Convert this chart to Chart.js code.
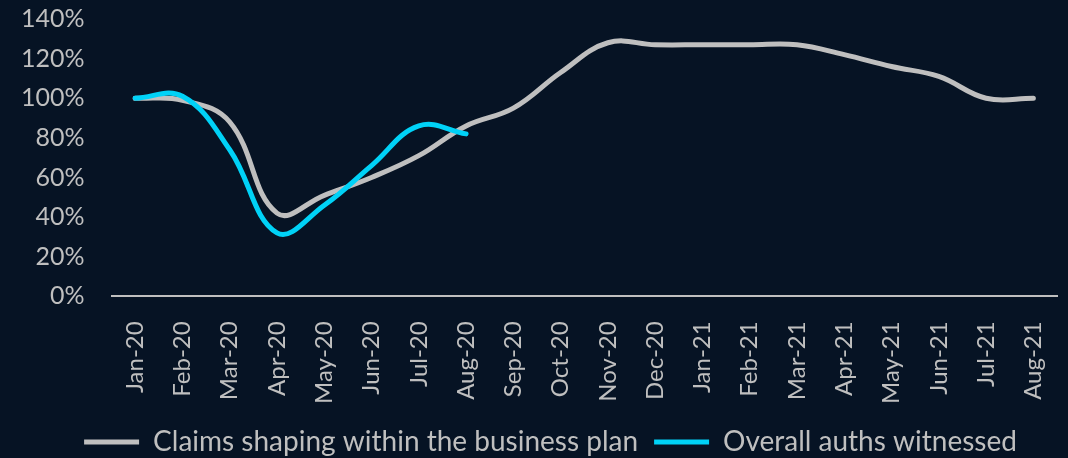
<!DOCTYPE html>
<html>
<head>
<meta charset="utf-8">
<script src="https://cdn.jsdelivr.net/npm/chart.js@4/dist/chart.umd.min.js"></script>
<style>
  html, body { margin: 0; padding: 0; background: #061324; }
  #wrap { width: 1068px; height: 458px; }
</style>
</head>
<body>
<div id="wrap"><canvas id="claimsChart"></canvas></div>
<script>
const months = ['Jan-20', 'Feb-20', 'Mar-20', 'Apr-20', 'May-20', 'Jun-20', 'Jul-20', 'Aug-20',
  'Sep-20', 'Oct-20', 'Nov-20', 'Dec-20', 'Jan-21', 'Feb-21', 'Mar-21', 'Apr-21',
  'May-21', 'Jun-21', 'Jul-21', 'Aug-21'];

// % of baseline
const claimsPlan = [100, 99, 88, 42, 51, 60, 71, 86, 95, 113, 128, 127, 127, 127, 127, 122, 116, 111, 100, 100];
const authsWitnessed = [100, 101, 74, 32, 46, 66, 86, 82];

const yTicks = [0, 20, 40, 60, 80, 100, 120, 140];

const textColor = '#bfbfbf';
const font = 'Lato, "Open Sans", sans-serif';

// nudge the legend row a little to the right
const legendShift = {
  id: 'legendShift',
  afterLayout(chart) { chart.legend.left += 42; }
};

new Chart(document.getElementById('claimsChart'), {
  type: 'line',
  data: {
    labels: months,
    datasets: [
      {
        label: 'Claims shaping within the business plan',
        data: claimsPlan,
        borderColor: '#bfbfbf',
        backgroundColor: '#bfbfbf',
        borderWidth: 5,
        borderCapStyle: 'round',
        pointRadius: 0,
        tension: 0.4,
        order: 1
      },
      {
        label: 'Overall auths witnessed',
        data: authsWitnessed,
        borderColor: '#00d2f7',
        backgroundColor: '#00d2f7',
        borderWidth: 5,
        borderCapStyle: 'round',
        pointRadius: 0,
        tension: 0.4,
        order: 0
      }
    ]
  },
  plugins: [legendShift],
  options: {
    responsive: true,
    maintainAspectRatio: false,
    animation: false,
    layout: { padding: { left: 2, right: 11, top: 19, bottom: -8 } },
    plugins: {
      tooltip: { enabled: false },
      legend: {
        position: 'bottom',
        labels: {
          color: textColor,
          font: { family: font, size: 28 },
          usePointStyle: true,
          pointStyleWidth: 55,
          pointStyle: 'line',
          padding: 16,
          sort: (a, b) => a.datasetIndex - b.datasetIndex
        }
      }
    },
    scales: {
      x: {
        offset: true,
        grid: { display: false },
        border: { display: true, color: '#bfbfbf', width: 2 },
        afterFit: axis => { axis.height -= 9; axis.paddingRight = 0; },
        ticks: {
          color: textColor,
          font: { family: font, size: 24 },
          minRotation: 90,
          maxRotation: 90,
          autoSkip: false,
          padding: 17
        }
      },
      y: {
        min: 0,
        max: 140,
        afterBuildTicks: axis => { axis.ticks = yTicks.map(v => ({ value: v })); },
        afterFit: axis => { axis.paddingTop = 0; },
        grid: { display: false },
        border: { display: false },
        ticks: {
          color: textColor,
          font: { family: font, size: 25 },
          padding: 19,
          callback: v => v + '%'
        }
      }
    }
  }
});
</script>
</body>
</html>
